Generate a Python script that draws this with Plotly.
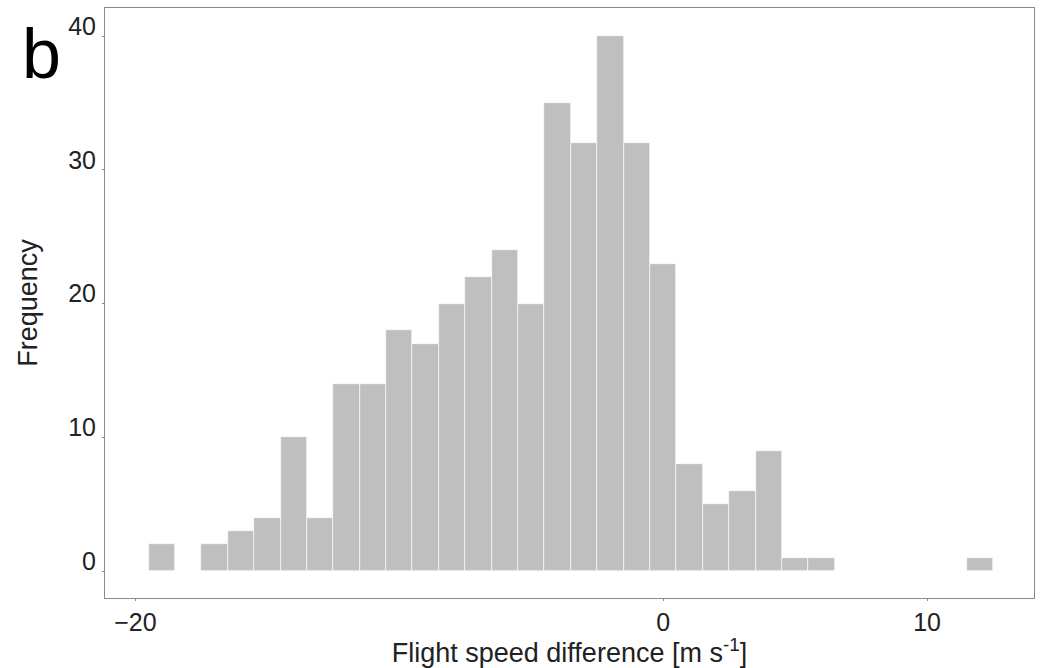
import plotly.graph_objects as go

bin_centers = list(range(-19, 13))
counts = [2, 0, 2, 3, 4, 10, 4, 14, 14, 18, 17, 20, 22, 24, 20, 35, 32, 40, 32, 23,
          8, 5, 6, 9, 1, 1, 0, 0, 0, 0, 0, 1]
x_ticks = [-20, 0, 10]
y_ticks = [0, 10, 20, 30, 40]

FONT = "Liberation Sans, Arial, sans-serif"

fig = go.Figure()
fig.add_trace(go.Bar(
    x=bin_centers, y=counts, width=1,
    marker=dict(color="#bfbfbf", line=dict(color="white", width=0.6)),
    showlegend=False, hoverinfo="x+y",
))

axis_common = dict(
    showgrid=False, zeroline=False, showline=True, mirror=True,
    linecolor="#8a8a8a", linewidth=1,
    ticks="outside", ticklen=2, tickcolor="#8a8a8a", tickwidth=1,
    tickfont=dict(family=FONT, size=25, color="#222222"),
)

fig.update_layout(
    width=1044, height=668,
    margin=dict(l=105, r=10, t=8, b=70),
    paper_bgcolor="white", plot_bgcolor="white",
    bargap=0,
    xaxis=dict(range=[-21.15, 14.05], tickvals=x_ticks,
               tickformat="d",
               title=dict(text="Flight speed difference [m s<sup>-1</sup>]",
                          font=dict(family=FONT, size=27, color="#222222"),
                          standoff=4),
               **axis_common),
    yaxis=dict(range=[-2, 42.1], tickvals=y_ticks,
               ticklabelshift=-10, ticklabelstandoff=1,
               title=dict(text="Frequency",
                          font=dict(family=FONT, size=27, color="#222222"),
                          standoff=22),
               **axis_common),
    annotations=[dict(
        text="b", xref="paper", yref="paper", x=0, y=1,
        xshift=-64, yshift=-46, xanchor="center", yanchor="middle",
        showarrow=False, font=dict(family=FONT, size=70, color="black"),
    )],
)

fig.write_html("out.html")
